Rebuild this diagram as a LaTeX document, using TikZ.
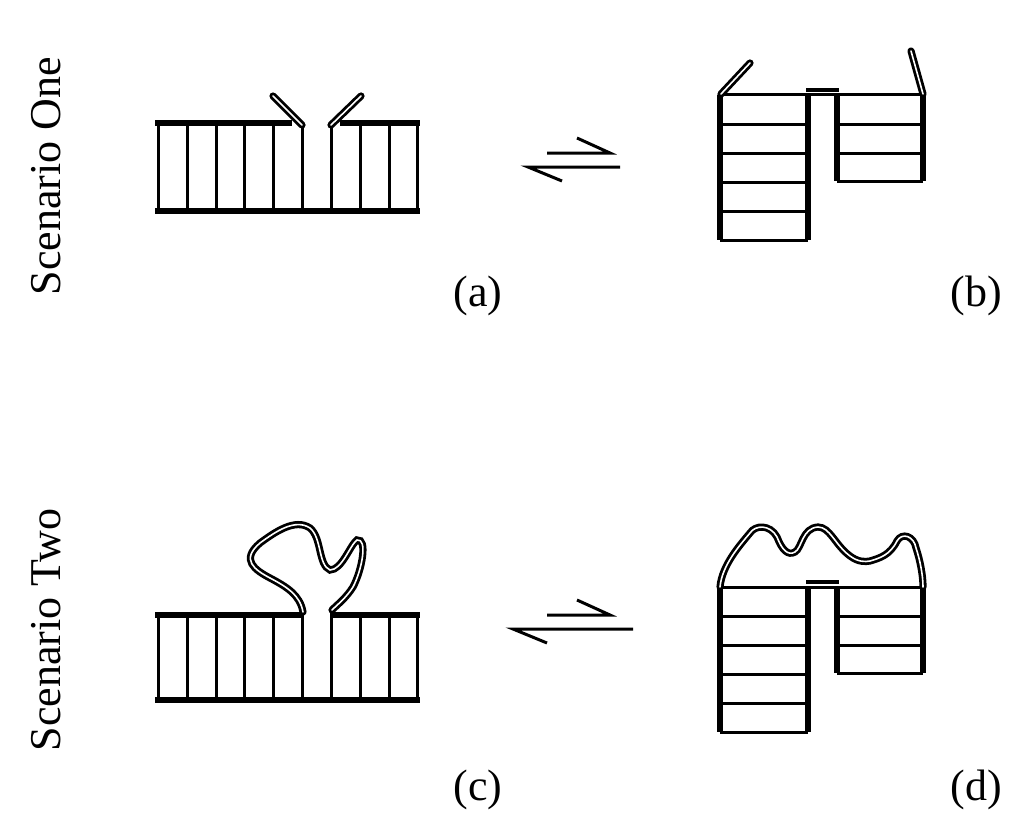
\documentclass[tikz,border=0pt]{standalone}
\usepackage{fontspec}
\setmainfont{Liberation Serif}
\begin{document}
\begin{tikzpicture}[x=1pt,y=-1pt,
  thin/.style={line width=3pt},
  thk/.style={line width=6.5pt},
  dbl/.style={double=white,double distance=1.6pt,line width=2.8pt,line cap=round},
  arr/.style={line width=3pt},
  lab/.style={font=\fontsize{44}{48}\selectfont}]
\useasboundingbox (0,0) rectangle (1024,832);
% panel a and c
\foreach \yt/\yb in {123/211, 615/700}{
  \foreach \x in {158,187,216,244,273,302,331,360,389,417}
    \draw[thin] (\x,\yt) -- (\x,\yb);
  \draw[thk] (155,\yb) -- (420,\yb);
}
\draw[thk] (155,123) -- (292,123);
\draw[thk] (340,123) -- (420,123);
\draw[dbl] (302,125) -- (273,96);
\draw[dbl] (331,125) -- (361,96);
\draw[thk] (155,615) -- (304,615);
\draw[thk] (330,615) -- (420,615);
\draw[dbl] (303,612) .. controls (300,595) and (287,587) .. (270,578)
  .. controls (255,570) and (240,560) .. (260,543)
  .. controls (275,532) and (295,518) .. (310,528)
  .. controls (322,538) and (318,565) .. (330,570)
  .. controls (342,570) and (350,545) .. (357,540)
  .. controls (368,538) and (362,570) .. (353,587)
  .. controls (346,598) and (338,604) .. (332,610);
% panel b and d
\foreach \yt/\ya in {95/0, 587/1}{
  \pgfmathsetmacro\yl{\yt+145}
  \pgfmathsetmacro\yr{\yt+86}
  \draw[thk] (720,\yt) -- (720,\yl);
  \draw[thk] (808,\yt) -- (808,\yl);
  \draw[thk] (837,\yt) -- (837,\yr);
  \draw[thk] (923,\yt) -- (923,\yr);
  \foreach \d in {0,29,58,87,116,145} \draw[thin] (720,\yt+\d) -- (808,\yt+\d);
  \foreach \d in {0,29,58,86} \draw[thin] (837,\yt+\d) -- (923,\yt+\d);
  \draw[thin] (808,\yt) -- (837,\yt);
  \draw[line width=4pt] (806,\yt-5) -- (839,\yt-5);
}
\draw[dbl] (721,94) -- (750,63);
\draw[dbl] (923,94) -- (911,51);
\draw[dbl] (720,587) .. controls (722,565) and (740,545) .. (750,533)
  .. controls (755,525) and (770,524) .. (777,537)
  .. controls (782,550) and (788,556) .. (795,552)
  .. controls (802,548) and (802,528) .. (818,527)
  .. controls (830,527) and (835,545) .. (850,556)
  .. controls (858,562) and (865,562) .. (870,561)
  .. controls (880,558) and (890,555) .. (897,541)
  .. controls (902,532) and (914,536) .. (916,548)
  .. controls (920,560) and (923,575) .. (923,587);
% arrows
\draw[arr] (547,153) -- (610,153) -- (577,138);
\draw[arr] (620,167) -- (528,167) -- (562,181);
\draw[arr] (547,615) -- (610,615) -- (577,600);
\draw[arr] (633,629) -- (513,629) -- (547,643);
% labels
\node[lab] (la) at (478,296) {(a)};
\node[lab] (lb) at (976,296) {(b)};
\node[lab] (lc) at (478,790) {(c)};
\node[lab] (ld) at (976,790) {(d)};
\node[lab,rotate=90] (s1) at (46,176) {Scenario One};
\node[lab,rotate=90] (s2) at (46,630) {Scenario Two};
\end{tikzpicture}
\end{document}
